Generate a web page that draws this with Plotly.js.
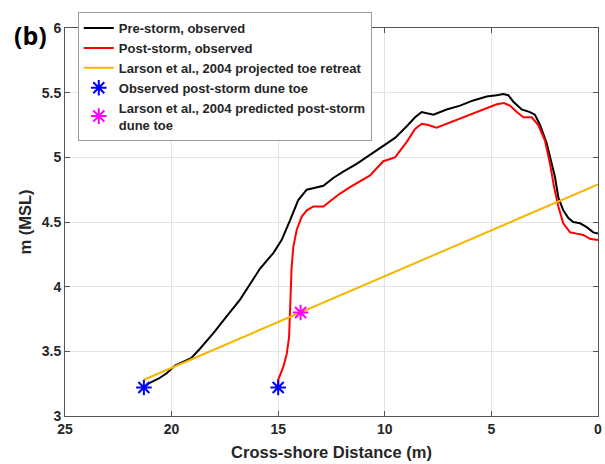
<!DOCTYPE html>
<html>
<head>
<meta charset="utf-8">
<script src="https://cdn.plot.ly/plotly-3.0.1.min.js"></script>
<style>html,body{margin:0;padding:0;background:#fff;}#chart{width:605px;height:464px;}</style>
</head>
<body>
<div id="chart"></div>
<script>
// Pre-storm observed profile
const preX = [21.3,21.09,20.6,20.23,19.84,19.45,19.06,18.67,18.04,17.42,16.79,16.24,15.85,15.23,14.84,14.45,14.06,13.66,13.19,12.88,12.42,11.95,11.32,10.69,10.07,9.52,8.97,8.58,8.27,7.96,7.72,7.10,6.47,5.85,5.22,4.75,4.44,4.21,3.97,3.58,3.19,2.96,2.72,2.41,2.17,2.02,1.86,1.63,1.39,1.16,0.84,0.53,0.22,0];
const preY = [3.22,3.25,3.29,3.33,3.39,3.42,3.45,3.52,3.64,3.77,3.90,4.04,4.14,4.26,4.36,4.51,4.67,4.75,4.77,4.78,4.84,4.89,4.95,5.02,5.09,5.15,5.24,5.31,5.35,5.34,5.33,5.37,5.40,5.44,5.47,5.48,5.49,5.48,5.43,5.37,5.35,5.33,5.25,5.11,4.95,4.85,4.69,4.59,4.53,4.50,4.49,4.46,4.42,4.41];
// Post-storm observed profile
const postX = [15.0,15.0,14.76,14.60,14.49,14.45,14.41,14.37,14.29,14.13,13.90,13.66,13.35,12.88,12.57,12.10,11.63,11.32,10.69,10.07,9.52,8.97,8.58,8.27,7.96,7.57,7.10,6.47,5.85,5.22,4.75,4.41,4.13,3.81,3.50,3.11,2.80,2.49,2.25,2.06,1.86,1.63,1.31,1.00,0.69,0.38,0.06,0];
const postY = [3.22,3.28,3.38,3.48,3.61,3.77,3.95,4.15,4.31,4.44,4.54,4.59,4.62,4.62,4.66,4.72,4.77,4.80,4.86,4.97,5.00,5.12,5.22,5.26,5.25,5.23,5.26,5.30,5.34,5.38,5.41,5.42,5.40,5.35,5.31,5.31,5.25,5.13,4.95,4.77,4.62,4.49,4.42,4.41,4.40,4.37,4.36,4.36];
// Larson et al. 2004 projected toe retreat line
const retreatX = [21.3, 0];
const retreatY = [3.28, 4.79];
// Observed dune toes (pre and post)
const obsToeX = [21.3, 15.0];
const obsToeY = [3.22, 3.22];
// Predicted post-storm dune toe
const predToeX = [13.95];
const predToeY = [3.80];
// Axis ticks
const xTicks = [0,5,10,15,20,25];
const yTicks = [3,3.5,4,4.5,5,5.5,6];

const FONT = 'Liberation Sans, Arial, sans-serif';
const TXT = '#262626';

const traces = [
  {x: preX, y: preY, mode: 'lines', name: '<b>Pre-storm, observed</b>', line: {color: '#000000', width: 2}},
  {x: postX, y: postY, mode: 'lines', name: '<b>Post-storm, observed</b>', line: {color: '#ff0000', width: 2}},
  {x: retreatX, y: retreatY, mode: 'lines', name: '<b>Larson et al., 2004 projected toe retreat</b>', line: {color: '#f7b500', width: 2}},
  {x: obsToeX, y: obsToeY, mode: 'markers', name: '<b>Observed post-storm dune toe</b>',
   marker: {symbol: 'asterisk-open', size: 13, color: '#0000ff', line: {color: '#0000ff', width: 2}}},
  {x: predToeX, y: predToeY, mode: 'markers', name: '<b>Larson et al., 2004 predicted post-storm<br>dune toe</b>',
   marker: {symbol: 'asterisk-open', size: 13, color: '#ff00ff', line: {color: '#ff00ff', width: 2}}}
];

const axCommon = {
  showgrid: true, gridcolor: '#e3e3e3', gridwidth: 1,
  showline: true, linecolor: '#555555', linewidth: 1, mirror: 'ticks',
  ticks: 'inside', ticklen: 5, tickcolor: '#555555',
  zeroline: false,
  tickfont: {family: FONT, size: 14, color: TXT, weight: 'bold'}
};

const layout = {
  width: 605, height: 464,
  margin: {l: 65, r: 7, t: 28, b: 48},
  paper_bgcolor: '#ffffff', plot_bgcolor: '#ffffff',
  font: {family: FONT, color: TXT},
  showlegend: true,
  legend: {
    x: 0.024, y: 1.041, xanchor: 'left', yanchor: 'top',
    bgcolor: '#ffffff', bordercolor: '#9a9a9a', borderwidth: 1,
    font: {family: FONT, size: 13, color: TXT},
    itemwidth: 30, tracegroupgap: 0
  },
  xaxis: Object.assign({}, axCommon, {
    range: [25, 0], tickvals: xTicks, ticktext: xTicks.map(String),
    title: {text: '<b>Cross-shore Distance (m)</b>', font: {family: FONT, size: 16.5, color: TXT}, standoff: 10}
  }),
  yaxis: Object.assign({}, axCommon, {
    range: [3, 6], tickvals: yTicks, ticktext: yTicks.map(String),
    title: {text: '<b>m (MSL)</b>', font: {family: FONT, size: 16.5, color: TXT}, standoff: 5}
  }),
  annotations: [{
    text: '<b>(b)</b>', xref: 'paper', yref: 'paper', x: -0.1, y: 1.03,
    xanchor: 'left', yanchor: 'top', showarrow: false,
    font: {family: 'Open Sans, Liberation Sans, sans-serif', size: 25, color: '#000000'}
  }]
};

Plotly.newPlot('chart', traces, layout, {displayModeBar: false, staticPlot: true});
</script>
</body>
</html>
